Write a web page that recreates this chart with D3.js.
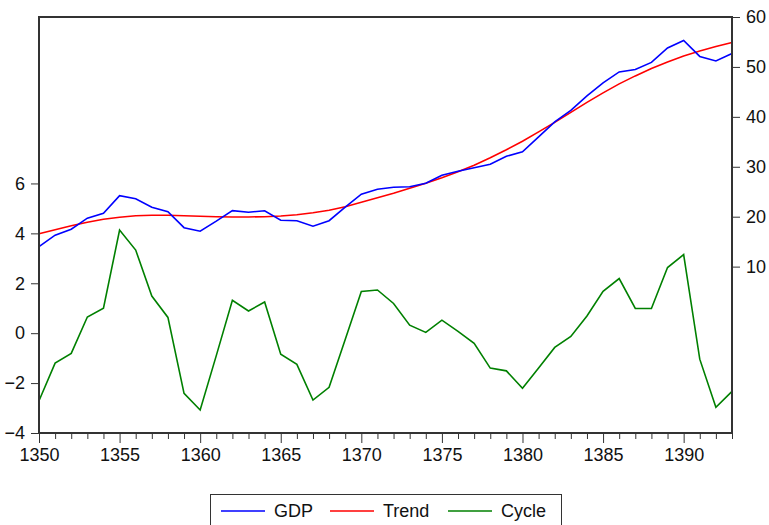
<!DOCTYPE html>
<html>
<head>
<meta charset="utf-8">
<script src="https://cdn.jsdelivr.net/npm/d3@7"></script>
<style>
  body { margin: 0; background: #fff; }
  svg text { font-family: "Liberation Sans", Arial, sans-serif; fill: #111; }
</style>
</head>
<body>
<div class="chart"></div>
<script>
var years = d3.range(1350, 1394);

var gdp = [14.0, 16.3, 17.5, 19.7, 20.7, 24.2, 23.6, 21.9, 21.0, 17.8,
  17.1, 19.1, 21.2, 20.9, 21.2, 19.3, 19.2, 18.1, 19.2, 21.9,
  24.5, 25.5, 25.9, 26.0, 26.7, 28.3, 29.1, 29.8, 30.5, 32.1,
  33.0, 36.0, 39.0, 41.3, 44.2, 46.8, 49.0, 49.5, 50.9, 53.8,
  55.3, 52.1, 51.2, 52.7];

var trend = [16.6, 17.4, 18.2, 18.9, 19.5, 19.9, 20.2, 20.3, 20.3, 20.2,
  20.1, 20.0, 19.95, 19.95, 20.0, 20.15, 20.4, 20.8, 21.3, 22.0,
  22.9, 23.8, 24.7, 25.7, 26.7, 27.8, 29.0, 30.3, 31.8, 33.4,
  35.1, 37.0, 38.9, 40.9, 42.9, 44.8, 46.6, 48.2, 49.7, 51.0,
  52.2, 53.2, 54.1, 54.9];

var cycle = [-2.71, -1.2, -0.81, 0.65, 1.0, 4.13, 3.33, 1.49, 0.63, -2.41,
  -3.08, -0.9, 1.32, 0.89, 1.25, -0.84, -1.25, -2.68, -2.17, -0.25,
  1.67, 1.73, 1.19, 0.32, 0.03, 0.52, 0.07, -0.41, -1.4, -1.51,
  -2.21, -1.4, -0.57, -0.13, 0.69, 1.68, 2.19, 0.99, 0.99, 2.63,
  3.15, -1.04, -2.97, -2.33];

var leftTicks = [-4, -2, 0, 2, 4, 6];
var rightTicks = [10, 20, 30, 40, 50, 60];
var xMajor = [1350, 1355, 1360, 1365, 1370, 1375, 1380, 1385, 1390];

var svgWidth = 769, svgHeight = 525;
var margin = { top: 17, right: 37, bottom: 92, left: 39 };
var width = svgWidth - margin.left - margin.right;
var height = svgHeight - margin.top - margin.bottom;

var svg = d3.select(".chart").append("svg")
  .attr("width", svgWidth)
  .attr("height", svgHeight);

var g = svg.append("g")
  .attr("transform", `translate(${margin.left}, ${margin.top})`);

var x = d3.scaleLinear().domain([1350, 1393]).range([0, width]);
var yLeft = d3.scaleLinear().domain([-4, 12.67]).range([height, 0]);
var yRight = d3.scaleLinear().domain([-23.33, 60]).range([height, 0]);

// axes
var bottomAxis = d3.axisBottom(x).tickValues(xMajor).tickFormat(d3.format("d"))
  .tickSize(10).tickPadding(5);
var minorAxis = d3.axisBottom(x).tickValues(years.filter(d => d % 5 != 0))
  .tickSize(6).tickFormat("");
var leftAxis = d3.axisLeft(yLeft).tickValues(leftTicks).tickSize(8).tickPadding(6);
var rightAxis = d3.axisRight(yRight).tickValues(rightTicks).tickSize(8).tickPadding(6);

function styleAxis(sel) {
  sel.select(".domain").remove();
  sel.selectAll("line").attr("stroke", "#333").attr("stroke-width", 1);
  sel.selectAll("text").style("font-size", "18px")
    .style("font-family", "'Liberation Sans', Arial, sans-serif").attr("fill", "#111");
}

g.append("g").attr("transform", `translate(0, ${height})`).call(bottomAxis).call(styleAxis);
g.append("g").attr("transform", `translate(0, ${height})`).call(minorAxis).call(styleAxis);
g.append("g").call(leftAxis).call(styleAxis);
g.append("g").attr("transform", `translate(${width}, 0)`).call(rightAxis).call(styleAxis);

// lines
var lineL = d3.line().x((d, i) => x(years[i])).y(d => yLeft(d));
var lineR = d3.line().x((d, i) => x(years[i])).y(d => yRight(d));

g.append("path").datum(cycle).attr("d", lineL)
  .attr("fill", "none").attr("stroke", "#008000").attr("stroke-width", 1.6);
g.append("path").datum(trend).attr("d", lineR)
  .attr("fill", "none").attr("stroke", "#ff0000").attr("stroke-width", 1.6);
g.append("path").datum(gdp).attr("d", lineR)
  .attr("fill", "none").attr("stroke", "#0000ff").attr("stroke-width", 1.6);

// frame
g.append("rect").attr("width", width).attr("height", height)
  .attr("fill", "none").attr("stroke", "#333").attr("stroke-width", 2);

// legend
var legend = svg.append("g");
legend.append("rect")
  .attr("x", 210.5).attr("y", 494.5).attr("width", 351).attr("height", 40)
  .attr("fill", "#fff").attr("stroke", "#333").attr("stroke-width", 1);

var legendItems = [
  { name: "GDP", color: "#0000ff", x: 221 },
  { name: "Trend", color: "#ff0000", x: 330 },
  { name: "Cycle", color: "#008000", x: 448 }
];
legendItems.forEach(function(item) {
  legend.append("line")
    .attr("x1", item.x).attr("x2", item.x + 44)
    .attr("y1", 511).attr("y2", 511)
    .attr("stroke", item.color).attr("stroke-width", 1.5);
  legend.append("text")
    .attr("x", item.x + 53).attr("y", 517)
    .style("font-size", "18px")
    .text(item.name);
});
</script>
</body>
</html>
